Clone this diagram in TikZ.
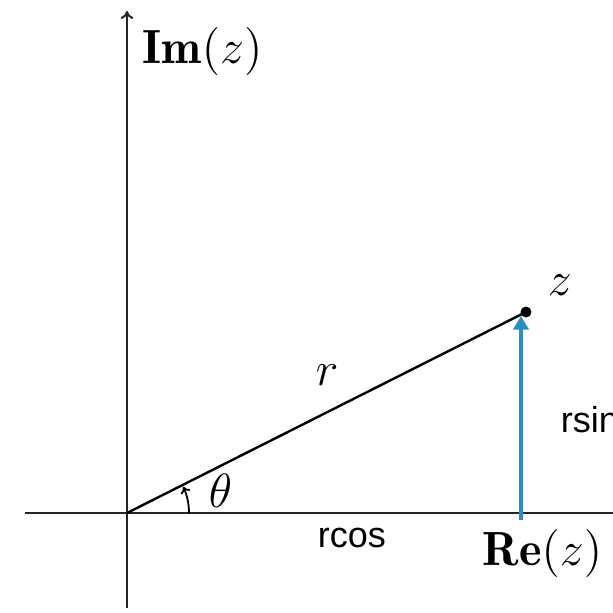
\documentclass[tikz,border=0pt]{standalone}
\usepackage{fontspec}
\newfontfamily\labelsans{Liberation Sans}
\usetikzlibrary{arrows.meta}
\definecolor{arrowblue}{HTML}{2A90BE}
\tikzset{
  axisline/.style={line width=0.5pt, black!85},
  mathlabel/.style={inner sep=0pt, anchor=base west, font=\fontsize{12}{14}\selectfont},
  sanslabel/.style={inner sep=0pt, anchor=base west, font=\labelsans\fontsize{9}{11}\selectfont},
}
\begin{document}
\begin{tikzpicture}[x=0.25pt,y=-0.25pt]
\useasboundingbox (0,0) rectangle (613,613);
\clip (0,0) rectangle (613,613);
\fill[white] (0,0) rectangle (613,613);
% coordinates
\coordinate (O) at (127,513);
\coordinate (xl) at (25,513);
\coordinate (xr) at (640,513);
\coordinate (yb) at (127,608);
\coordinate (yt) at (127,11);
\coordinate (zp) at (526,312);
\coordinate (bb) at (521,520);
\coordinate (bt) at (521,316);
% axes
\draw[axisline] (xl) -- (xr);
\draw[axisline, -{To[length=2pt,width=3.2pt]}] (yb) -- (yt);
% radius
\draw[line width=0.6pt] (O) -- (zp);
\fill (zp) circle (5.5);
% angle arc
\draw[line width=0.45pt, -{To[length=1.6pt,width=2.6pt]}] ([xshift=62*0.25pt]O) arc[start angle=0, end angle=25, radius=62*0.25pt];
% blue arrow
\draw[arrowblue, line width=1pt, -{Triangle[width=3.8pt,length=3.4pt]}] (bb) -- (bt);
% labels
\node[mathlabel] (im) at (142,63) {$\mathbf{Im}(z)$};
\node[mathlabel] (re) at (482,565) {$\mathbf{Re}(z)$};
\node[mathlabel] (th) at (208,507) {$\theta$};
\node[mathlabel] (rl) at (315,385) {$r$};
\node[mathlabel] (zl) at (547,295) {$z$};
\node[sanslabel] (rc) at (317,547) {rcos};
\node[sanslabel] (rs) at (560,432) {rsin};
\end{tikzpicture}
\end{document}
